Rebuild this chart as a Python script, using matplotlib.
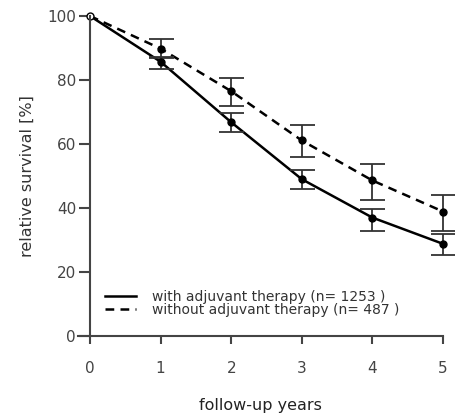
import matplotlib.pyplot as plt

# data
years = [0, 1, 2, 3, 4, 5]

with_adj = [100, 85.7, 66.8, 49.0, 37.0, 28.8]
with_lo = [100, 83.4, 63.6, 45.8, 32.9, 25.4]
with_hi = [100, 87.3, 69.6, 52.0, 39.8, 32.0]

without_adj = [100, 89.8, 76.5, 61.1, 48.6, 38.9]
without_lo = [100, 87.0, 72.0, 55.8, 42.6, 32.9]
without_hi = [100, 92.8, 80.5, 65.8, 53.9, 44.2]

label_with = "with adjuvant therapy (n= 1253 )"
label_without = "without adjuvant therapy (n= 487 )"

plt.rcParams['font.family'] = ['DejaVu Sans']

fig = plt.figure(figsize=(4.56, 4.18), dpi=100)
ax = fig.add_axes([78 / 456, 1 - 336 / 418, (443 - 78) / 456, (336 - 16) / 418])

err_with = [[v - l for v, l in zip(with_adj, with_lo)], [h - v for v, h in zip(with_adj, with_hi)]]
err_without = [[v - l for v, l in zip(without_adj, without_lo)], [h - v for v, h in zip(without_adj, without_hi)]]

# curves
ax.plot(years, with_adj, color='black', lw=1.8, ls='-', label=label_with, clip_on=False)
ax.plot(years, without_adj, color='black', lw=1.8, ls=(0, (3.5, 2.5)), label=label_without, clip_on=False)

# error bars and markers
ax.errorbar(years[1:], with_adj[1:], yerr=[e[1:] for e in err_with], fmt='o', ms=5,
            color='black', ecolor='#333333', elinewidth=1.3, capsize=9, capthick=1.3, clip_on=False)
ax.errorbar(years[1:], without_adj[1:], yerr=[e[1:] for e in err_without], fmt='o', ms=5,
            color='black', ecolor='#333333', elinewidth=1.3, capsize=9, capthick=1.3, clip_on=False)
ax.plot([0], [100], 'o', ms=5, mfc='white', mec='black', clip_on=False)

ax.set_xlim(-0.17, 5)
ax.set_ylim(0, 100)
ax.spines['top'].set_visible(False)
ax.spines['right'].set_visible(False)
ax.spines['left'].set_position(('data', 0))
for side in ['left', 'bottom']:
    ax.spines[side].set_color('#444444')
    ax.spines[side].set_linewidth(1.5)

ax.set_xticks(years)
ax.set_yticks([0, 20, 40, 60, 80, 100])
ax.tick_params(axis='y', length=8, width=1.5, colors='#444444', labelsize=11, pad=2)
ax.tick_params(axis='x', length=6, width=1.5, colors='#444444', labelsize=11, pad=12)

ax.set_ylabel("relative survival [%]", fontsize=11.5, color='#333333', labelpad=9)
ax.set_xlabel("follow-up years", fontsize=11.5, color='#222222', labelpad=16)

ax.legend(loc='lower left', bbox_to_anchor=(0.04, 0.02), frameon=False, fontsize=10,
          handlelength=2.2, handletextpad=1.2, labelspacing=-0.05, labelcolor='#333333')

plt.savefig("out.png", dpi=100)
